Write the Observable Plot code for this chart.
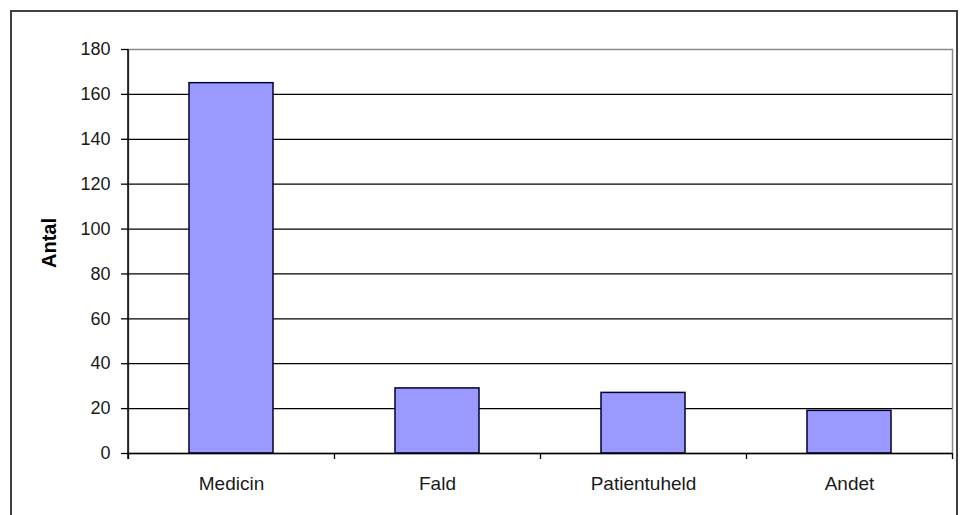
<!DOCTYPE html>
<html>
<head>
<meta charset="utf-8">
<script src="https://cdn.jsdelivr.net/npm/d3@7"></script>
<script src="https://cdn.jsdelivr.net/npm/@observablehq/plot@0.6"></script>
<style>
  html, body { margin: 0; padding: 0; background: #fff; overflow: hidden; }
  #wrap { position: relative; width: 960px; height: 515px; overflow: hidden; }
  #border { position: absolute; left: 10px; top: 10px; width: 948px; height: 530px; border: 2px solid #404040; box-sizing: border-box; pointer-events: none; }
  svg { font-family: "Liberation Sans", Arial, sans-serif; }
</style>
</head>
<body>
<div id="wrap"><div id="border"></div></div>
<script>
const categories = ["Medicin", "Fald", "Patientuheld", "Andet"];
const values = [165, 29, 27, 19];
const yTicks = [0, 20, 40, 60, 80, 100, 120, 140, 160, 180];
const yLabel = "Antal";

const data = categories.map((c, i) => ({category: c, value: values[i]}));
const pLeft = 128, pRight = 952, pTop = 49, pBottom = 453;
const step = (pRight - pLeft) / categories.length;

const chart = Plot.plot({
  width: 960,
  height: 515,
  marginLeft: pLeft,
  marginRight: 960 - pRight,
  marginTop: pTop,
  marginBottom: 515 - pBottom,
  style: {fontFamily: "'Liberation Sans', Arial, sans-serif", fontSize: "18px", background: "transparent"},
  x: {domain: categories, paddingInner: 0.59, paddingOuter: 0.295},
  y: {domain: [0, 180]},
  marks: [
    Plot.frame({stroke: "#8a8a8a", strokeWidth: 1.5}),
    Plot.ruleY(yTicks.filter(t => t > 0 && t < 180), {stroke: "#000", strokeWidth: 1.3}),
    Plot.barY(data, {x: "category", y: "value", fill: "#9999ff", stroke: "#000033", strokeWidth: 1.5}),
    Plot.ruleY([0], {stroke: "#000", strokeWidth: 1.5}),
    Plot.ruleX(categories, {x: d => d, dx: -step / 2, y1: 0, y2: 0, insetBottom: -6, stroke: "#000", strokeWidth: 1.3}),
    Plot.ruleX([categories[categories.length - 1]], {x: d => d, dx: step / 2, y1: 0, y2: 0, insetBottom: -6, stroke: "#000", strokeWidth: 1.3}),
    Plot.axisY({ticks: yTicks, tickSize: 7, tickPadding: 11, label: null, stroke: "#000", strokeWidth: 1.3, tickFormat: d => String(d), fill: "#1a1a1a", fontSize: 18}),
    Plot.axisX({tickSize: 0, tickPadding: 23, label: null, fill: "#1a1a1a", fontSize: 19})
  ]
});
const svg = d3.select(chart);
// left y-axis line
svg.append("line")
  .attr("x1", pLeft).attr("x2", pLeft)
  .attr("y1", pTop).attr("y2", pBottom + 6)
  .attr("stroke", "#000").attr("stroke-width", 1.5);
// y-axis title
svg.append("text")
  .attr("transform", "translate(56,243) rotate(-90)")
  .attr("text-anchor", "middle")
  .attr("font-weight", "bold")
  .attr("font-size", 20)
  .attr("fill", "#000")
  .text(yLabel);
chart.style.position = "absolute";
chart.style.left = "0px";
chart.style.top = "0px";
document.getElementById("wrap").prepend(chart);
</script>
</body>
</html>
